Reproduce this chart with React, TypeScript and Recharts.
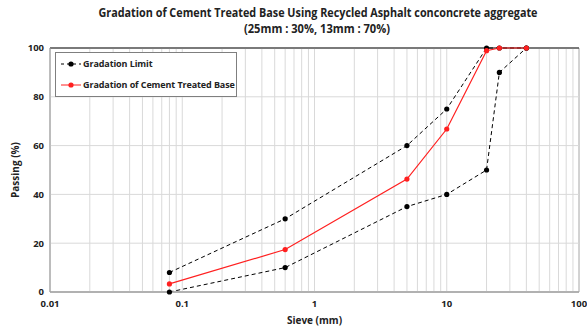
import { LineChart, Line, XAxis, YAxis, ReferenceArea, ReferenceLine, Label } from 'recharts'

const sieves = [0.08, 0.6, 5, 10, 20, 25, 40]
const upperLimit = [8, 30, 60, 75, 100, 100, 100]
const lowerLimit = [0, 10, 35, 40, 50, 90, 100]
const ctbPassing = [3.3, 17.4, 46.3, 66.8, 98.9, 100, 100]

const xTicks = [0.01, 0.1, 1, 10, 100]
const yTicks = [0, 20, 40, 60, 80, 100]
const yGrid = [20, 40, 60, 80]
const minorX = [
  0.02, 0.03, 0.04, 0.05, 0.06, 0.07, 0.08, 0.09, 0.1,
  0.2, 0.3, 0.4, 0.5, 0.6, 0.7, 0.8, 0.9, 1,
  2, 3, 4, 5, 6, 7, 8, 9, 10,
  20, 30, 40, 50, 60, 70, 80, 90,
]

const upperData = sieves.map((s, i) => ({ sieve: s, value: upperLimit[i] }))
const lowerData = sieves.map((s, i) => ({ sieve: s, value: lowerLimit[i] }))
const ctbData = sieves.map((s, i) => ({ sieve: s, value: ctbPassing[i] }))

const FONT = '"Open Sans", "Liberation Sans", Arial, sans-serif'
const tickStyle = { fontSize: 9.5, fontWeight: 700, fill: '#222', fontFamily: FONT }

function LegendBox() {
  const row = { display: 'flex', alignItems: 'center', height: 21, paddingLeft: 5, whiteSpace: 'nowrap' as const }
  return (
    <div style={{ position: 'absolute', left: 55, top: 52, width: 182, height: 45, border: '1px solid #7f7f7f', background: '#fff', fontFamily: FONT, fontSize: 9, fontWeight: 700, color: '#222', boxSizing: 'border-box', letterSpacing: -0.1 }}>
      <div style={row}>
        <svg width={20} height={8}>
          <line x1={0} y1={4} x2={20} y2={4} stroke="#000" strokeDasharray="3 3" />
          <circle cx={10} cy={4} r={2.6} fill="#000" />
        </svg>
        <span style={{ marginLeft: 2 }}>Gradation Limit</span>
      </div>
      <div style={row}>
        <svg width={20} height={8}>
          <line x1={0} y1={4} x2={20} y2={4} stroke="#ff2020" />
          <circle cx={10} cy={4} r={2.6} fill="#ff2020" />
        </svg>
        <span style={{ marginLeft: 2 }}>Gradation of Cement Treated Base</span>
      </div>
    </div>
  )
}

export default function App() {
  return (
    <div style={{ position: 'absolute', left: 0, top: 0, width: 587, height: 327, background: '#fff' }}>
      <LineChart width={587} height={327} margin={{ top: 48, right: 8, bottom: 0, left: 0 }}>
        {minorX.map((v) => (
          <ReferenceLine key={`vx-${v}`} x={v} stroke="#d9d9d9" strokeWidth={1} />
        ))}
        {yGrid.map((v) => (
          <ReferenceLine key={`hy-${v}`} y={v} stroke="#d9d9d9" strokeWidth={1} />
        ))}
        <XAxis
          dataKey="sieve"
          type="number"
          scale="log"
          domain={[0.01, 100]}
          ticks={xTicks}
          allowDataOverflow
          height={35}
          tickLine={false}
          tickSize={6}
          tickMargin={2}
          axisLine={{ stroke: '#a6a6a6', strokeWidth: 1.5 }}
          tick={tickStyle}
          tickFormatter={(v: number) => String(v)}
        >
          <Label value="Sieve (mm)" position="insideBottom" offset={3} style={{ fontSize: 10, fontWeight: 700, fill: '#222', fontFamily: FONT }} />
        </XAxis>
        <YAxis
          type="number"
          domain={[0, 100]}
          ticks={yTicks}
          width={50}
          tickLine={false}
          tickSize={6}
          tickMargin={0}
          axisLine={{ stroke: '#a6a6a6' }}
          tick={tickStyle}
        >
          <Label
            content={({ viewBox }: any) => (
              <text x={15} y={viewBox.y + viewBox.height / 2} transform={`rotate(-90 15 ${viewBox.y + viewBox.height / 2})`} textAnchor="middle" dominantBaseline="central" style={{ fontSize: 10, fontWeight: 700, fill: '#222', fontFamily: FONT }}>
                Passing (%)
              </text>
            )}
          />
        </YAxis>
        <ReferenceArea x1={0.01} x2={100} y1={0} y2={100} fill="none" stroke="#a6a6a6" ifOverflow="visible" />
        <ReferenceLine y={100} stroke="#222" strokeWidth={1.2} />
        <Line data={lowerData} dataKey="value" name="Gradation Limit" stroke="#000" strokeWidth={1} strokeDasharray="4 3" dot={{ r: 2.6, fill: '#000', stroke: '#000', strokeWidth: 0 }} isAnimationActive={false} />
        <Line data={upperData} dataKey="value" name="Gradation Limit" stroke="#000" strokeWidth={1} strokeDasharray="4 3" dot={{ r: 2.6, fill: '#000', stroke: '#000', strokeWidth: 0 }} isAnimationActive={false} />
        <Line data={ctbData} dataKey="value" name="Gradation of Cement Treated Base" stroke="#ff2020" strokeWidth={1.2} dot={{ r: 2.6, fill: '#ff2020', stroke: '#ff2020', strokeWidth: 0 }} isAnimationActive={false} />
      </LineChart>
      <LegendBox />
      <svg width={587} height={40} style={{ position: 'absolute', left: 0, top: 0 }}>
        <text x={318} y={17} textAnchor="middle" fontFamily={FONT} fontWeight={700} fontSize={12} fill="#222" textLength={439} lengthAdjust="spacingAndGlyphs">
          Gradation of Cement Treated Base Using Recycled Asphalt conconcrete aggregate
        </text>
        <text x={317} y={33} textAnchor="middle" fontFamily={FONT} fontWeight={700} fontSize={12} fill="#222" textLength={146} lengthAdjust="spacingAndGlyphs">
          (25mm : 30%, 13mm : 70%)
        </text>
      </svg>
    </div>
  )
}
